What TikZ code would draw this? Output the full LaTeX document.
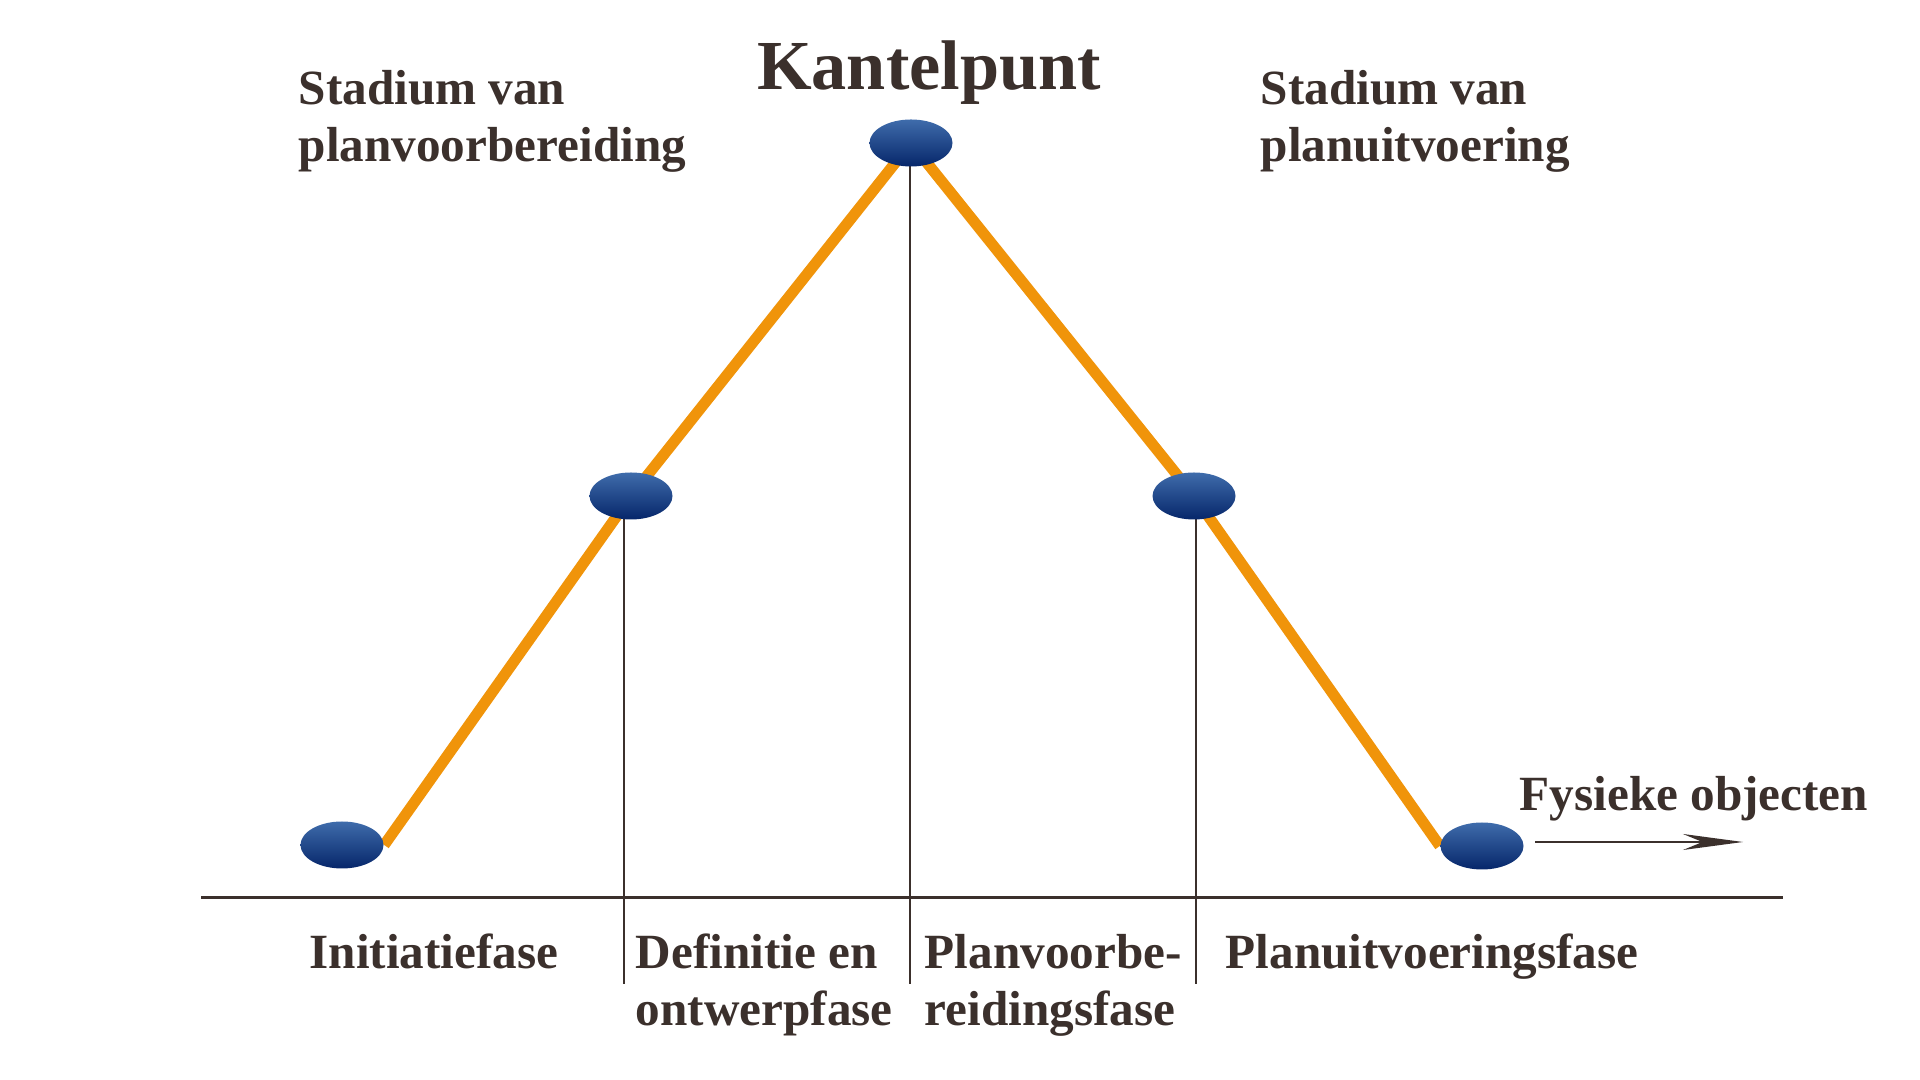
\documentclass[tikz,border=0pt]{standalone}
\usepackage{fontspec}
\setmainfont{Liberation Serif}
\usetikzlibrary{shapes.geometric,arrows.meta,backgrounds}
\definecolor{txt}{HTML}{3B302C}
\definecolor{oranje}{HTML}{F0940A}
\definecolor{blauwtop}{HTML}{3F6CAB}
\definecolor{blauwbot}{HTML}{06266A}
\tikzset{
	fase/.style={
		shape = ellipse,
		minimum width = 0.83cm,
		minimum height = 0.47cm,
		inner sep = 0,
		top color = blauwtop,
		bottom color = blauwbot
	},
	lbl/.style={
		inner sep = 0,
		text = txt,
		align = left,
		font = \fontsize{14}{16.3}\selectfont\bfseries
	},
}
\tikzset{>={Stealth[length=6mm,width=1.6mm]}}

\begin{document}
\begin{tikzpicture}
    \useasboundingbox (0,0) rectangle (19.2,10.8);
    \node[fase] (n1) at (3.42,2.35) {};
    \node[fase] (n2) at (6.31,5.84) {};
    \node[fase] (n3) at (9.11,9.37) {};
    \node[fase] (n4) at (11.94,5.84) {};
    \node[fase] (n5) at (14.82,2.34) {};
    \coordinate (axL) at (2.01,1.82);
    \coordinate (axR) at (17.83,1.82);
    \coordinate (b2) at (6.24,0.96);
    \coordinate (b3) at (9.10,0.96);
    \coordinate (b4) at (11.96,0.96);
    \coordinate (pijlA) at (15.35,2.38);
    \coordinate (pijlB) at (17.43,2.38);
    \begin{pgfonlayer}{background}
      \draw[oranje, line width=1.1mm] (n1.east) -- (n2.center) -- (n3.center) -- (n4.center) -- (n5.west);
      \foreach \b/\n in {b2/n2,b3/n3,b4/n4}{
        \draw[txt, line width=0.2mm] (\b) -- (\b |- \n);
      }
    \end{pgfonlayer}
    \draw[txt, line width=0.3mm] (axL) -- (axR);
    \draw[txt, line width=0.25mm, ->] (pijlA) -- (pijlB);
    \node[lbl, anchor=base, font=\fontsize{20}{24}\selectfont\bfseries] (kantel) at (9.29,9.90) {Kantelpunt};
    \node[lbl, anchor=base west] (voorb) at (2.98,9.18) {Stadium van\\planvoorbereiding};
    \node[lbl, anchor=base west] (uitv) at (12.60,9.18) {Stadium van\\planuitvoering};
    \node[lbl, anchor=base west] (fys) at (15.19,2.69) {Fysieke objecten};
    \node[lbl, anchor=base] (f1) at (4.34,1.11) {Initiatiefase};
    \node[lbl, anchor=base west] (f2) at (6.35,0.54) {Definitie en\\ontwerpfase};
    \node[lbl, anchor=base west] (f3) at (9.24,0.54) {Planvoorbe-\\reidingsfase};
    \node[lbl, anchor=base west] (f4) at (12.25,1.11) {Planuitvoeringsfase};
\end{tikzpicture}
\end{document}
